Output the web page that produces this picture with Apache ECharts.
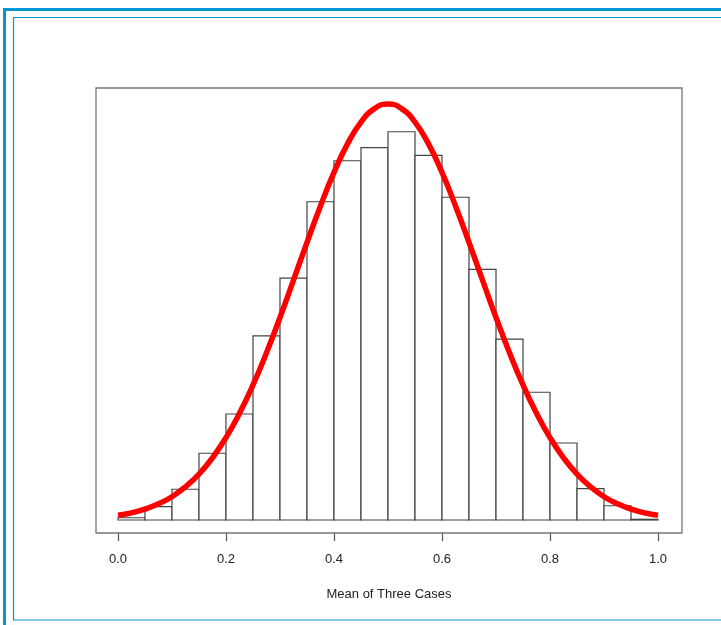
<!DOCTYPE html>
<html>
<head>
<meta charset="utf-8">
<script src="https://cdn.jsdelivr.net/npm/echarts@6/dist/echarts.min.js"></script>
<style>
html,body{margin:0;padding:0;background:#fff;}
#chart{width:721px;height:625px;}
</style>
</head>
<body>
<div id="chart"></div>
<script>
// Histogram bins (left edges) and densities
var binStarts = [0.00,0.05,0.10,0.15,0.20,0.25,0.30,0.35,0.40,0.45,0.50,0.55,0.60,0.65,0.70,0.75,0.80,0.85,0.90,0.95];
var binWidth = 0.05;
var densities = [0.013,0.077,0.177,0.384,0.610,1.059,1.392,1.831,2.067,2.142,2.234,2.098,1.857,1.442,1.041,0.735,0.443,0.180,0.082,0.004];
// Fitted curve points
var curveX = [0.000,0.025,0.050,0.075,0.100,0.125,0.150,0.175,0.200,0.225,0.250,0.275,0.300,0.325,0.350,0.375,0.400,0.425,0.450,0.475,0.500,0.525,0.550,0.575,0.600,0.625,0.650,0.675,0.700,0.725,0.750,0.775,0.800,0.825,0.850,0.875,0.900,0.925,0.950,0.975,1.000];
var curveY = [0.027,0.041,0.063,0.093,0.134,0.191,0.264,0.358,0.474,0.614,0.777,0.962,1.165,1.380,1.597,1.807,2.000,2.164,2.289,2.367,2.394,2.367,2.289,2.164,2.000,1.807,1.597,1.380,1.165,0.962,0.777,0.614,0.474,0.358,0.264,0.191,0.134,0.093,0.063,0.041,0.027];
var tickValues = [0, 0.2, 0.4, 0.6, 0.8, 1.0];
var xTitle = 'Mean of Three Cases';

var barData = binStarts.map(function (s, i) { return [s, s + binWidth, densities[i]]; });
var curveData = curveX.map(function (x, i) { return [x, curveY[i]]; });

var chart = echarts.init(document.getElementById('chart'), null, {renderer: 'canvas'});
var blue = '#0096d6';
chart.setOption({
  animation: false,
  backgroundColor: '#fff',
  textStyle: {fontFamily: 'Liberation Sans, Arial, sans-serif'},
  graphic: [
    {type: 'rect', shape: {x: 3, y: 8, width: 730, height: 3}, style: {fill: blue}, silent: true},
    {type: 'rect', shape: {x: 3, y: 8, width: 3, height: 630}, style: {fill: blue}, silent: true},
    {type: 'rect', shape: {x: 13.5, y: 17.5, width: 720, height: 602.5}, style: {fill: null, stroke: blue, lineWidth: 1.2}, silent: true}
  ],
  grid: {left: 96, right: 39, top: 88, bottom: 92, show: true, borderColor: '#777', borderWidth: 1.3, backgroundColor: 'transparent'},
  xAxis: {
    type: 'value', min: -0.0407, max: 1.0444,
    splitLine: {show: false},
    axisLine: {show: false, onZero: false},
    axisTick: {show: true, inside: false, customValues: tickValues, length: 8, lineStyle: {color: '#555', width: 1.2}},
    axisLabel: {show: true, customValues: tickValues, margin: 20, fontSize: 13, color: '#222',
      formatter: function (v) { return (Math.round(v * 10) / 10).toFixed(1); }},
    name: xTitle, nameLocation: 'middle', nameGap: 55,
    nameTextStyle: {fontSize: 13, color: '#222'}
  },
  yAxis: {
    type: 'value', min: -0.0748, max: 2.4856,
    show: false, splitLine: {show: false}
  },
  series: [
    {
      type: 'custom',
      data: barData,
      renderItem: function (params, api) {
        var p0 = api.coord([api.value(0), api.value(2)]);
        var p1 = api.coord([api.value(1), 0]);
        return {
          type: 'rect',
          shape: {x: p0[0], y: p0[1], width: p1[0] - p0[0], height: p1[1] - p0[1]},
          style: {fill: '#fff', stroke: '#444', lineWidth: 1.2}
        };
      },
      z: 2
    },
    {
      type: 'line',
      data: curveData,
      smooth: true,
      showSymbol: false,
      lineStyle: {color: '#ff0000', width: 5.5},
      z: 3
    }
  ]
});
</script>
</body>
</html>
